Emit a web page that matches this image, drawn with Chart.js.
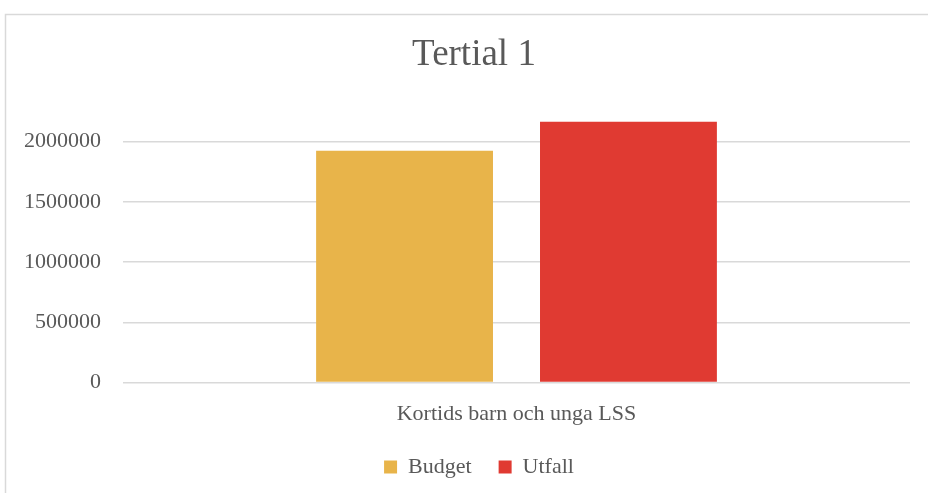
<!DOCTYPE html>
<html>
<head>
<meta charset="utf-8">
<script src="https://cdn.jsdelivr.net/npm/chart.js@4"></script>
<style>
  html, body { margin: 0; padding: 0; background: #fff; }
  #wrap { position: relative; width: 928px; height: 493px; }
</style>
</head>
<body>
<div id="wrap"><canvas id="c" width="928" height="493"></canvas></div>
<script>
const categories = ["Kortids barn och unga LSS"];
const budgetValues = [1923000];
const utfallValues = [2164000];
const seriesNames = ["Budget", "Utfall"];
const yTickValues = [0, 500000, 1000000, 1500000, 2000000];
const titleText = "Tertial 1";

const FONT = "'Liberation Serif', 'DejaVu Serif', serif";
const TEXT = "#595959";

const frame = {
  id: 'frame',
  beforeDraw(chart) {
    const ctx = chart.ctx;
    ctx.save();
    ctx.fillStyle = '#fff';
    ctx.fillRect(0, 0, chart.width, chart.height);
    ctx.strokeStyle = '#d9d9d9';
    ctx.lineWidth = 1.5;
    ctx.strokeRect(5.5, 14.5, 1000, 1000);
    ctx.restore();
  }
};

// nudge title and legend horizontally to match the original's centring
const nudge = {
  id: 'nudge',
  afterLayout(chart) {
    if (chart.titleBlock) { chart.titleBlock.left += 18; chart.titleBlock.right += 18; }
    if (chart.legend) { chart.legend.left += 23; chart.legend.right += 23; }
  }
};

new Chart(document.getElementById('c'), {
  type: 'bar',
  data: {
    labels: categories,
    datasets: [
      { label: seriesNames[0], data: budgetValues, backgroundColor: '#E8B44A', categoryPercentage: 0.569, barPercentage: 0.79 },
      { label: seriesNames[1], data: utfallValues, backgroundColor: '#E03A32', categoryPercentage: 0.569, barPercentage: 0.79 }
    ]
  },
  plugins: [frame, nudge],
  options: {
    responsive: false,
    animation: false,
    layout: { padding: { left: 2, right: 18, top: 0, bottom: 5 } },
    plugins: {
      title: {
        display: true, text: titleText, color: TEXT,
        font: { family: FONT, size: 37, weight: 'normal' },
        padding: { top: 33, bottom: 40 }
      },
      legend: {
        position: 'bottom',
        labels: {
          color: TEXT, boxWidth: 13, boxHeight: 13, padding: 27,
          font: { family: FONT, size: 22 }
        }
      },
      tooltip: { enabled: false }
    },
    scales: {
      x: {
        afterFit(scale) { scale.height -= 16; },
        grid: { display: false, drawTicks: false },
        border: { display: false },
        ticks: { color: TEXT, font: { family: FONT, size: 22 }, padding: 18 }
      },
      y: {
        min: 0, max: 2200000,
        afterBuildTicks(scale) {
          scale.ticks = yTickValues.map(v => ({ value: v }));
        },
        grid: { color: '#d9d9d9', lineWidth: 1.5, drawTicks: false },
        border: { display: false },
        ticks: {
          color: TEXT, font: { family: FONT, size: 22 }, padding: 22,
          callback: (v) => String(v)
        }
      }
    }
  }
});
</script>
</body>
</html>
